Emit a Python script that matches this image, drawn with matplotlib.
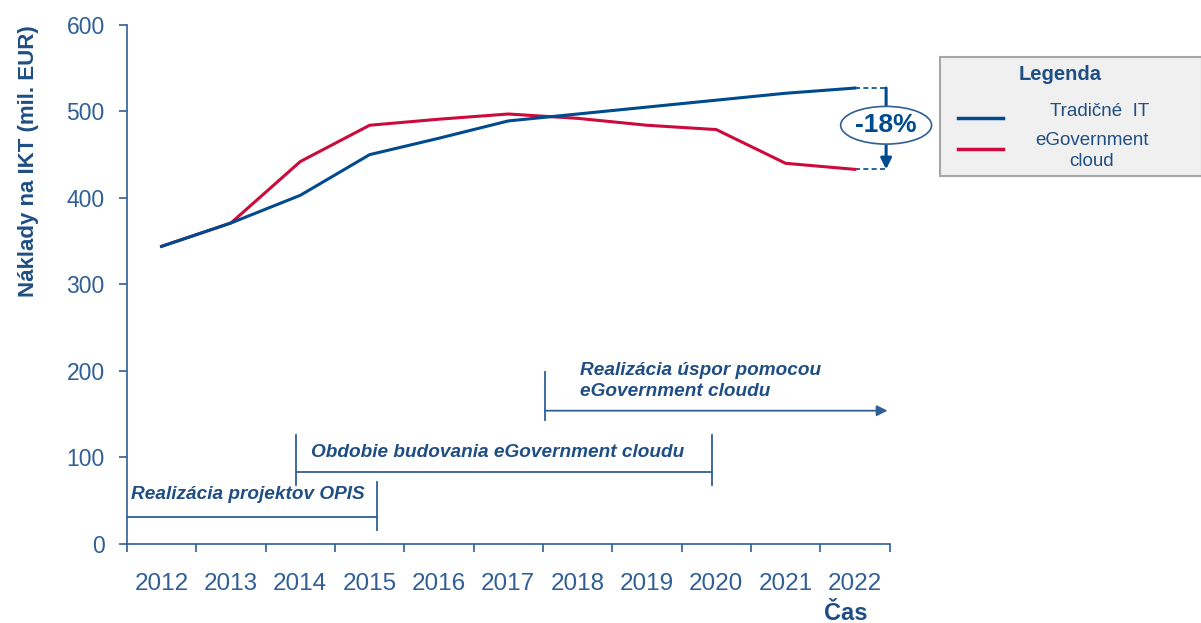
import matplotlib.pyplot as plt
from matplotlib.patches import Rectangle
from matplotlib.lines import Line2D

plt.rcParams['font.family'] = ['Liberation Sans', 'DejaVu Sans']

# -------------------------
# Data
# -------------------------
years = ["2012", "2013", "2014", "2015", "2016", "2017",
         "2018", "2019", "2020", "2021", "2022"]
tradicne_it = [344, 371, 403, 450, 469, 489, 497, 505, 513, 521, 527]
egov_cloud = [344, 371, 442, 484, 491, 497, 492, 484, 479, 440, 433]
y_ticks = [0, 100, 200, 300, 400, 500, 600]

label_blue = "Tradičné  IT"
label_red = "eGovernment\ncloud"
saving_text = "-18%"

# phases: (label, start, end, height)
phase_opis = ("Realizácia projektov OPIS", -0.5, 3.1, 31)
phase_build = ("Obdobie budovania eGovernment cloudu", 1.94, 7.94, 83)
phase_save = ("Realizácia úspor pomocou\neGovernment cloudu", 5.53, 10.47, 154)

dark_blue = "#1f4e84"
tick_blue = "#2f5f96"
line_blue = "#004b8d"
line_red = "#cc0a3c"

# -------------------------
# Figure
# -------------------------
fig = plt.figure(figsize=(12.01, 6.23), dpi=100)
ax = fig.add_axes([0.1057, 0.127, 0.635, 0.833])

x = list(range(len(years)))
ax.plot(x, egov_cloud, color=line_red, lw=2.2, zorder=3)
ax.plot(x, tradicne_it, color=line_blue, lw=2.2, zorder=4)

ax.set_xlim(-0.5, len(years) - 0.5)
ax.set_ylim(0, 600)
ax.set_yticks(y_ticks)
ax.set_xticks([i - 0.5 for i in range(len(years) + 1)], minor=False)
ax.set_xticklabels([])
ax.set_xticks(x, minor=True)
ax.set_xticklabels(years, minor=True)
ax.tick_params(axis="x", which="minor", length=0, pad=21,
               labelsize=17.5, labelcolor=tick_blue)
ax.tick_params(axis="x", which="major", length=6, direction="out",
               color=tick_blue, width=1.2)
ax.tick_params(axis="y", length=6, direction="out", color=tick_blue,
               width=1.2, labelsize=16.5, labelcolor=tick_blue, pad=10)

for side in ["top", "right"]:
    ax.spines[side].set_visible(False)
for side in ["left", "bottom"]:
    ax.spines[side].set_color(tick_blue)
    ax.spines[side].set_linewidth(1.2)

ax.set_ylabel("Náklady na IKT (mil. EUR)", fontsize=16, fontweight="bold",
              color=dark_blue, labelpad=20, loc="top")
ax.text(9.87, -80, "Čas", fontsize=17, fontweight="bold", color=dark_blue,
        ha="center", va="center", clip_on=False)

# -------------------------
# Savings marker
# -------------------------
x_end = len(years) - 1
x_mark = x_end + 0.45
ax.plot([x_end, x_mark], [tradicne_it[-1], tradicne_it[-1]], ls=(0, (3, 2)),
        color=line_blue, lw=1.2, clip_on=False)
ax.plot([x_end, x_mark], [egov_cloud[-1], egov_cloud[-1]], ls=(0, (3, 2)),
        color=line_blue, lw=1.2, clip_on=False)
ax.annotate("", xy=(x_mark, egov_cloud[-1]), xytext=(x_mark, tradicne_it[-1]),
            arrowprops=dict(arrowstyle="-|>", color=line_blue, lw=2.2,
                            mutation_scale=16, shrinkA=0, shrinkB=0),
            annotation_clip=False)
ax.text(x_mark, (tradicne_it[-1] + egov_cloud[-1]) / 2 + 4, saving_text,
        fontsize=19, fontweight="bold", color=line_blue, ha="center",
        va="center", zorder=6,
        bbox=dict(boxstyle="ellipse,pad=0.05", fc="white", ec=tick_blue, lw=1.2),
        clip_on=False)

# -------------------------
# Phase brackets
# -------------------------
ann_style = dict(fontsize=13.7, fontweight="bold", fontstyle="italic",
                 color=dark_blue)

label, x0, x1, h = phase_opis
ax.plot([x0, x1], [h, h], color=tick_blue, lw=1.3, clip_on=False)
ax.plot([x1, x1], [h - 15, h + 41], color=tick_blue, lw=1.3)
ax.text(x0 + 0.06, h + 26, label, va="center", ha="left", **ann_style)

label, x0, x1, h = phase_build
ax.plot([x0, x1], [h, h], color=tick_blue, lw=1.3)
ax.plot([x0, x0], [h - 15, h + 43], color=tick_blue, lw=1.3)
ax.plot([x1, x1], [h - 15, h + 43], color=tick_blue, lw=1.3)
ax.text(x0 + 0.22, h + 23, label, va="center", ha="left", **ann_style)

label, x0, x1, h = phase_save
ax.plot([x0, x0], [h - 11, h + 45], color=tick_blue, lw=1.3)
ax.annotate("", xy=(x1, h), xytext=(x0, h),
            arrowprops=dict(arrowstyle="-|>", color=tick_blue, lw=1.3,
                            mutation_scale=16, shrinkA=0, shrinkB=0),
            annotation_clip=False)
ax.text(x0 + 0.5, h + 34, label, va="center", ha="left",
        linespacing=1.3, **ann_style)

# -------------------------
# Legend box
# -------------------------
lx0, ly0, lw_, lh = 940 / 1201, 1 - 176 / 623, 262 / 1201, 119 / 623
fig.patches.append(Rectangle((lx0, ly0), lw_, lh, transform=fig.transFigure,
                             fc="#f0f0f0", ec="#a6a6a6", lw=1.5))
fig.text(1060 / 1201, 1 - 75 / 623, "Legenda", fontsize=14.5, fontweight="bold",
         color=dark_blue, ha="center", va="center")
fig.lines.append(Line2D([958 / 1201, 1003 / 1201], [1 - 118 / 623] * 2,
                        transform=fig.transFigure, color=line_blue, lw=2.5))
fig.lines.append(Line2D([958 / 1201, 1003 / 1201], [1 - 149 / 623] * 2,
                        transform=fig.transFigure, color=line_red, lw=2.5))
fig.text(1100 / 1201, 1 - 112 / 623, label_blue, fontsize=13.5, color=dark_blue,
         ha="center", va="center")
fig.text(1092 / 1201, 1 - 151 / 623, label_red, fontsize=13.5, color=dark_blue,
         ha="center", va="center", linespacing=1.25)

fig.savefig("out.png", dpi=100)
